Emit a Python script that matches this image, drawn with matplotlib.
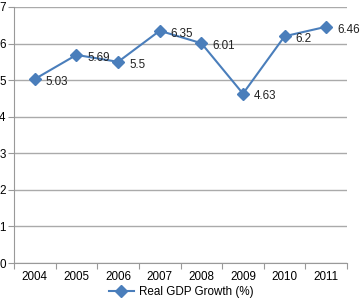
import matplotlib.pyplot as plt

years = ['2004', '2005', '2006', '2007', '2008', '2009', '2010', '2011']
growth = [5.03, 5.69, 5.5, 6.35, 6.01, 4.63, 6.2, 6.46]

plt.rcParams['font.family'] = ['Liberation Sans', 'DejaVu Sans']
plt.rcParams['font.size'] = 8.4

fig = plt.figure(figsize=(3.62, 3.0), dpi=100)
ax = fig.add_axes([0.0387, 0.1233, 0.92, 0.8534])

x = list(range(len(years)))
line, = ax.plot(x, growth, color='#4A7EBB', linewidth=1.5, marker='D',
                markersize=6.5, label='Real GDP Growth (%)')

for xi, v in zip(x, growth):
    ax.annotate(f'{v:g}', (xi, v), xytext=(8, -2), textcoords='offset points',
                ha='left', va='center', color='#222222')

ax.set_xlim(-0.5, len(years) - 0.5)
ax.set_ylim(0, 7)
ax.set_yticks(range(0, 8))
ax.set_xticks([i - 0.5 for i in range(len(years) + 1)], minor=False)
ax.set_xticklabels([])
ax.set_xticks(x, minor=True)
ax.set_xticklabels(years, minor=True)
ax.tick_params(axis='x', which='major', length=4, color='#999999', direction='out')
ax.tick_params(axis='x', which='minor', length=0, pad=6)
ax.tick_params(axis='y', length=4, color='#999999', pad=2)
ax.yaxis.grid(True, color='#AAAAAA', linewidth=1)
ax.set_axisbelow(True)
for s in ['top', 'right']:
    ax.spines[s].set_visible(False)
for s in ['left', 'bottom']:
    ax.spines[s].set_color('#999999')

fig.legend(handles=[line], loc='center', bbox_to_anchor=(0.5, 0.027),
           frameon=False, handlelength=2.2, handletextpad=0.4, fontsize=8.4)

fig.savefig('out.png', dpi=100)
